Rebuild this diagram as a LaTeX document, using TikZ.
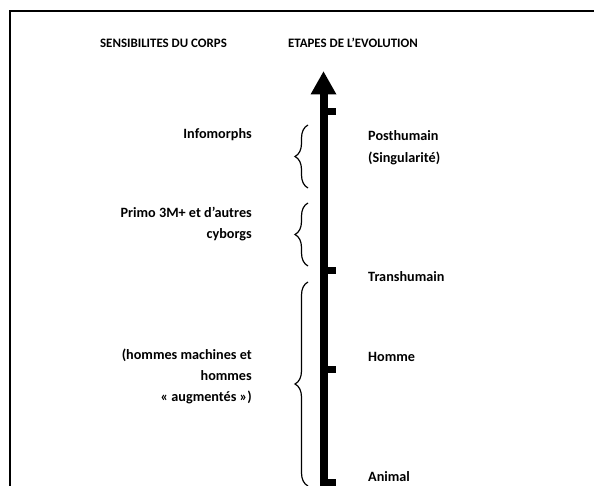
\documentclass[tikz,border=0pt]{standalone}
\usepackage{fontspec}
\setmainfont{Carlito}
\usetikzlibrary{decorations.pathreplacing}
\begin{document}
\begin{tikzpicture}[x=1pt,y=-1pt,
  frameline/.style={line width=2.2pt},
  heading/.style={font=\bfseries\fontsize{12.9}{16}\selectfont, inner sep=0pt},
  lefttext/.style={font=\bfseries\fontsize{14.2}{21}\selectfont, inner sep=0pt, align=right, anchor=base east},
  righttext/.style={font=\bfseries\fontsize{14.2}{22}\selectfont, inner sep=0pt, align=left, anchor=base west},
  tickmark/.style={fill=black},
  bracestyle/.style={line width=1.2pt, decorate, decoration={brace, amplitude=13pt}}]
\useasboundingbox (0,0) rectangle (594,486);
% frame
\coordinate (fbl) at (10,487);
\coordinate (ftl) at (10,11);
\coordinate (ftr) at (595,11);
\draw[frameline] (fbl) -- (ftl) -- (ftr);
% headings
\node[heading, anchor=base] (h1) at (163.5,47.3) {SENSIBILITES DU CORPS};
\node[heading, anchor=base] (h2) at (353,47.3) {ETAPES DE L’EVOLUTION};
% arrow
\fill (319.5,487) rectangle (327.5,94);
\fill (310.5,94.5) -- (336.5,94.5) -- (323.5,71.5) -- cycle;
\fill[tickmark] (327,108) rectangle (336,115);
\fill[tickmark] (327,267.5) rectangle (336,274.5);
\fill[tickmark] (327,365.5) rectangle (336,372.5);
\fill[tickmark] (327,479) rectangle (336,487);
% braces
\coordinate (b1a) at (308,188);
\coordinate (b1b) at (308,125);
\coordinate (b2a) at (308,266);
\coordinate (b2b) at (308,203);
\coordinate (b3a) at (308,486);
\coordinate (b3b) at (308,282);
\draw[bracestyle] (b1a) -- (b1b);
\draw[bracestyle] (b2a) -- (b2b);
\draw[bracestyle] (b3a) -- (b3b);
% left texts (base anchor = last line)
\node[lefttext] (l1) at (252,139) {Infomorphs};
\node[lefttext] (l2) at (252,239) {Primo 3M+ et d’autres\\cyborgs};
\node[lefttext] (l3) at (252,401.5) {(hommes machines et\\hommes\\« augmentés »)};
% right texts
\node[righttext] (r1) at (368,162.5) {Posthumain\\(Singularité)};
\node[righttext] (r2) at (368,281.5) {Transhumain};
\node[righttext] (r3) at (368,361.5) {Homme};
\node[righttext] (r4) at (368,481.5) {Animal};
\end{tikzpicture}
\end{document}
